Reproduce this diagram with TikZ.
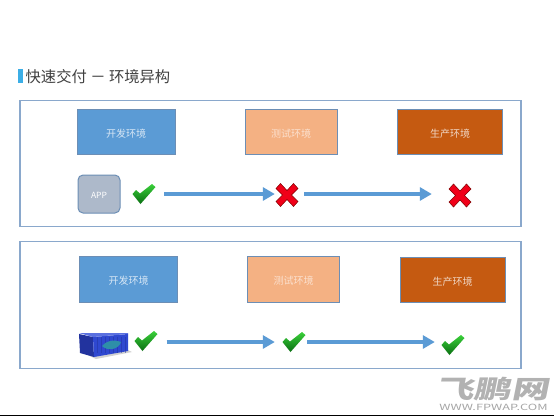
\documentclass[tikz,border=0pt]{standalone}
\usepackage{fontspec}
\setmainfont{Noto Sans CJK SC}
\usetikzlibrary{arrows.meta}
\definecolor{framecol}{HTML}{8AA8CC}
\definecolor{devcol}{HTML}{5B9BD5}
\definecolor{testcol}{HTML}{F4B183}
\definecolor{prodcol}{HTML}{C55A11}
\definecolor{appcol}{HTML}{ADB9CA}
\definecolor{edgecol}{HTML}{6C8EB5}
\definecolor{flowcol}{HTML}{5B9BD5}
\definecolor{barcol}{HTML}{3CAEE6}
\definecolor{okhigh}{HTML}{3AD03A}
\definecolor{oklow}{HTML}{0A6E12}
\definecolor{badcol}{HTML}{F00018}
\definecolor{crateside}{HTML}{2F48D0}
\definecolor{crateend}{HTML}{22339E}
\definecolor{cratetop}{HTML}{5A70E0}
\definecolor{whalecol}{HTML}{2E8FA8}
\begin{document}
\begin{tikzpicture}[x=1pt, y=-1pt, >={Triangle[length=12pt, width=13pt]}]
    % Two panels: app promoted as is, then promoted in a container
    \tikzset{frame/.style={draw=framecol, line width=1.2pt, fill=white, minimum width=501pt, minimum height=126.5pt, inner sep=0pt},
        envbox/.style={draw=edgecol, line width=1pt, inner sep=0pt, minimum height=45.5pt, text height=10.5pt, text depth=0pt, font=\fontsize{10}{12}\selectfont},
        devbox/.style={envbox, fill=devcol, text=white!75!devcol, minimum width=98pt},
        testbox/.style={envbox, fill=testcol, text=white!60!testcol, minimum width=92pt},
        prodbox/.style={envbox, fill=prodcol, text=white!75!prodcol, minimum width=105pt},
        markspot/.style={inner sep=0pt, minimum size=24pt},
        flow/.style={->, draw=flowcol, line width=3.6pt},
        okmark/.pic={\shade[top color=okhigh, bottom color=oklow] (-11.5,0) -- (-8,-4) -- (-4,-0.5) -- (8,-10) -- (11.5,-7) -- (-3.5,10) -- cycle;},
        badmark/.pic={\fill[badcol, draw=red!50!black, line width=0.5pt] (-11,-6.5) -- (-6.5,-11.5) -- (0,-4.5) -- (6.5,-11.5) -- (11,-6.5) -- (4.5,0) -- (11,6.5) -- (6.5,11.5) -- (0,4.5) -- (-6.5,11.5) -- (-11,6.5) -- (-4.5,0) -- cycle;}}
    \useasboundingbox (0,0) rectangle (554,416);
    \fill[white] (0,0) rectangle (554,416);
    % heading
    \node[fill=barcol, minimum width=5pt, minimum height=14pt, inner sep=0pt] (titlebar) at (20.5,75.5) {};
    \node[anchor=west, inner sep=0pt, text=black!75, font=\fontsize{15.3}{18}\selectfont] (title) at (25.5,76.5) {快速交付 － 环境异构};
    % upper panel
    \node[frame] (frameA) at (270.5,163.5) {};
    \node[devbox] (devA) at (126,132) {开发环境};
    \node[testbox] (testA) at (291,132) {测试环境};
    \node[prodbox] (prodA) at (450,132) {生产环境};
    \node[draw=edgecol, line width=1pt, fill=appcol, rounded corners=5pt, minimum width=42pt, minimum height=38pt, inner sep=0pt, text=white, text height=8pt, text depth=0pt, font=\fontsize{8.5}{10}\selectfont] (app) at (99,194) {APP};
    \node[markspot] (okA) at (144,194) {}; \pic at (okA) {okmark};
    \node[markspot] (badA) at (287,195) {}; \pic at (badA) {badmark};
    \node[markspot] (badB) at (460,195.5) {}; \pic at (badB) {badmark};
    \draw[flow, shorten <=8pt] (okA.east |- 0,194) -- (badA.west |- 0,194);
    \draw[flow, shorten <=5pt, shorten >=16pt] (badA.east |- 0,194) -- (badB.west |- 0,194);
    % lower panel
    \node[frame] (frameB) at (270.5,305) {};
    \node[devbox] (devB) at (128.5,279.7) {开发环境};
    \node[testbox] (testB) at (293.5,279.7) {测试环境};
    \node[prodbox] (prodB) at (452.5,280) {生产环境};
    \begin{scope}
        % shipping container with the whale on its side
        \fill[black!18] (88,355) -- (128,350) -- (132,352) -- (96,359) -- cycle;
        \fill[crateend] (79,334) -- (93,337) -- (94,357) -- (80,353) -- cycle;
        \fill[crateside] (93,337) -- (128,334) -- (128,351) -- (94,357) -- cycle;
        \fill[cratetop] (79,333) -- (128,333) -- (128,334) -- (93,337) -- cycle;
        \foreach \xpos in {83,87,97,101,105,109,113,117,121,125} \draw[crateend, opacity=0.5, line width=0.3pt] (\xpos,337) -- (\xpos,353);
        \fill[whalecol] (102,346) .. controls (106,341) and (113,339) .. (121,342) .. controls (119,349) and (108,352) .. (102,346) -- cycle;
    \end{scope}
    \node[inner sep=0pt, minimum width=49pt, minimum height=24pt] (crate) at (103.5,345) {};
    \node[markspot] (okB) at (146,341) {}; \pic at (okB) {okmark};
    \node[markspot] (okC) at (294,342) {}; \pic at (okC) {okmark};
    \node[markspot] (okD) at (453,345) {}; \pic at (okD) {okmark};
    \draw[flow, shorten <=8.5pt, shorten >=7pt] (okB.east |- 0,342) -- (okC.west |- 0,342);
    \draw[flow, shorten <=1pt, shorten >=6pt] (okC.east |- 0,342) -- (okD.west |- 0,342);
    % site stamp and page edge
    \node[inner sep=0pt, text=black!30, font=\fontsize{25}{25}\selectfont\bfseries, xslant=0.2, xscale=1.5] (stamp) at (494.5,389.5) {飞鹏网};
    \node[inner sep=0pt, text=black!35, font=\fontsize{8.5}{10}\selectfont, xscale=1.5] (site) at (493.5,407) {WWW.FPWAP.COM};
    \coordinate (edgeL) at (0,415.2); \coordinate (edgeR) at (554,415.2);
    \draw[black, line width=1.4pt] (edgeL) -- (edgeR);
\end{tikzpicture}
\end{document}
